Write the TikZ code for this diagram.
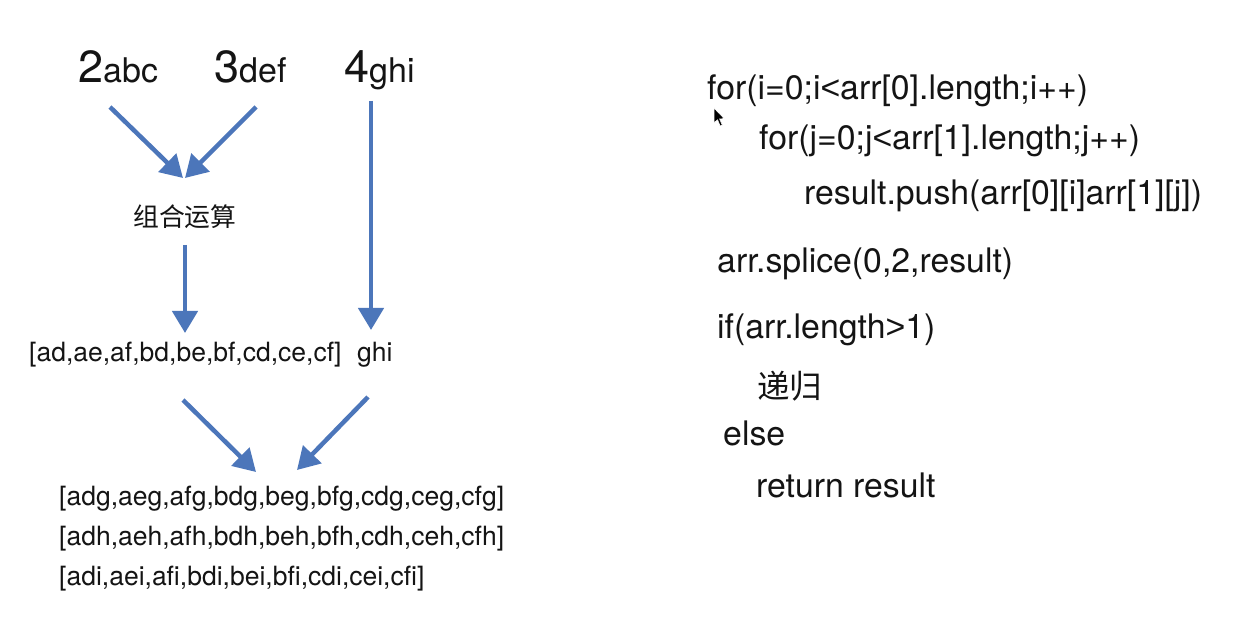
\documentclass[tikz,border=0pt]{standalone}
\usepackage{fontspec}
\setmainfont{TeX Gyre Heros}
\newfontfamily\cjk{Noto Sans CJK SC}
\newfontfamily\libsans{Liberation Sans}
\newcommand{\lessglyph}{{\libsans\symbol{"3C}}}
\newcommand{\moreglyph}{{\libsans\symbol{"3E}}}
\usetikzlibrary{arrows.meta}
\definecolor{arrowblue}{RGB}{76,118,186}
\definecolor{ink}{RGB}{20,20,20}
\begin{document}
\begin{tikzpicture}[x=1pt,y=-1pt,
  txt/.style={anchor=base west, inner sep=0pt, text=ink, font=\fontsize{26.5}{30}\selectfont},
  code/.style={anchor=base west, inner sep=0pt, text=ink, font=\fontsize{33.8}{38}\selectfont},
  big/.style={anchor=base west, inner sep=0pt, text=ink},
  conn/.style={draw=arrowblue, line width=4.5pt, -{Triangle[length=22pt,width=25pt]}}]
\useasboundingbox (0,0) rectangle (1236,617);
\fill[white] (0,0) rectangle (1236,617);

% top labels
\node[big] (k2) at (78,83) {\fontsize{45}{48}\selectfont 2\fontsize{34}{38}\selectfont abc};
\node[big] (k3) at (214,83) {\fontsize{45}{48}\selectfont 3\fontsize{34}{38}\selectfont def};
\node[big] (k4) at (344,83) {\fontsize{45}{48}\selectfont 4\fontsize{34}{38}\selectfont ghi};

% middle
\node[txt, font=\cjk\fontsize{25.8}{30}\selectfont] (comb) at (133,227) {组合运算};
\node[txt] (pairs) at (29,361) {[ad,ae,af,bd,be,bf,cd,ce,cf]};
\node[txt] (ghi) at (357,361) {ghi};

% results
\node[txt] (r1) at (59,505) {[adg,aeg,afg,bdg,beg,bfg,cdg,ceg,cfg]};
\node[txt] (r2) at (59,545) {[adh,aeh,afh,bdh,beh,bfh,cdh,ceh,cfh]};
\node[txt] (r3) at (59,585) {[adi,aei,afi,bdi,bei,bfi,cdi,cei,cfi]};

% arrow end points
\coordinate (a1s) at (110,107);
\coordinate (a1e) at (183,178);
\coordinate (a2s) at (256,107);
\coordinate (a2e) at (185,178);
\coordinate (a3s) at (371,101);
\coordinate (a3e) at (371,330);
\coordinate (a4s) at (185,245);
\coordinate (a4e) at (185,333);
\coordinate (a5s) at (183,400);
\coordinate (a5e) at (256,472);
\coordinate (a6s) at (368,397);
\coordinate (a6e) at (297,470);

\draw[conn] (a1s) -- (a1e);
\draw[conn] (a2s) -- (a2e);
\draw[conn] (a3s) -- (a3e);
\draw[conn] (a4s) -- (a4e);
\draw[conn] (a5s) -- (a5e);
\draw[conn] (a6s) -- (a6e);

% code
\node[code] (c1) at (707,100) {for(i=0;i\lessglyph arr[0].length;i++)};
\node[code] (c2) at (759,150) {for(j=0;j\lessglyph arr[1].length;j++)};
\node[code] (c3) at (804,205) {result.push(arr[0][i]arr[1][j])};
\node[code] (c4) at (717,273) {arr.splice(0,2,result)};
\node[code] (c5) at (717,338) {if(arr.length\moreglyph 1)};
\node[code, font=\cjk\fontsize{32.5}{36}\selectfont] (c6) at (757,398) {递归};
\node[code] (c7) at (723,445) {else};
\node[code] (c8) at (756,497) {return result};

% mouse cursor
\filldraw[fill=black, draw=white, line width=0.6pt]
  (714,108) -- (714,123) -- (717.5,119.8) -- (720.2,126) -- (722.3,125.1) -- (719.6,119) -- (724.2,118.6) -- cycle;
\end{tikzpicture}
\end{document}
